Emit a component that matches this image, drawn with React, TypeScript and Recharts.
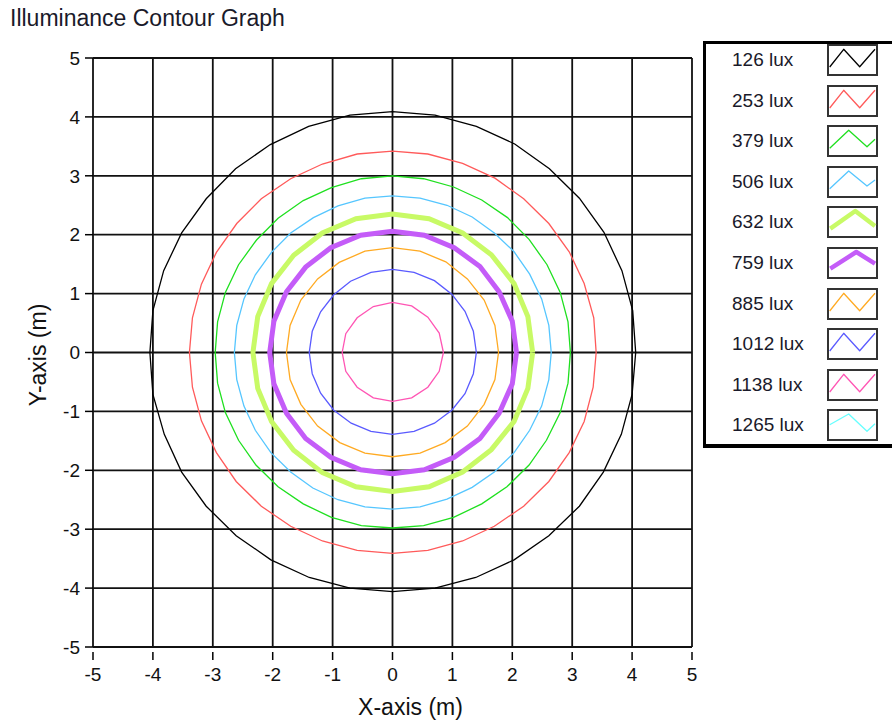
import { LineChart, Line, XAxis, YAxis, CartesianGrid, Label } from "recharts";

// axis ticks (metres)
const axisTicks = [-5, -4, -3, -2, -1, 0, 1, 2, 3, 4, 5];

// contour levels shown in the legend
const levelLabels = [
  "126 lux",
  "253 lux",
  "379 lux",
  "506 lux",
  "632 lux",
  "759 lux",
  "885 lux",
  "1012 lux",
  "1138 lux",
  "1265 lux",
];

// contour outlines, (x, y) in metres
const contour126 = [
  { x: 4.06, y: 0 }, { x: 4.01, y: 0.71 }, { x: 3.83, y: 1.39 }, { x: 3.53, y: 2.04 },
  { x: 3.12, y: 2.62 }, { x: 2.62, y: 3.12 }, { x: 2.04, y: 3.54 }, { x: 1.4, y: 3.84 },
  { x: 0.71, y: 4.03 }, { x: 0, y: 4.09 }, { x: -0.71, y: 4.03 }, { x: -1.4, y: 3.84 },
  { x: -2.04, y: 3.53 }, { x: -2.62, y: 3.12 }, { x: -3.11, y: 2.61 }, { x: -3.52, y: 2.03 },
  { x: -3.82, y: 1.39 }, { x: -4.0, y: 0.71 }, { x: -4.05, y: 0 }, { x: -4.0, y: -0.71 },
  { x: -3.81, y: -1.39 }, { x: -3.52, y: -2.03 }, { x: -3.11, y: -2.61 }, { x: -2.61, y: -3.11 },
  { x: -2.03, y: -3.52 }, { x: -1.39, y: -3.82 }, { x: -0.71, y: -4.0 }, { x: 0, y: -4.06 },
  { x: 0.71, y: -4.0 }, { x: 1.39, y: -3.82 }, { x: 2.03, y: -3.52 }, { x: 2.61, y: -3.11 },
  { x: 3.12, y: -2.61 }, { x: 3.52, y: -2.03 }, { x: 3.82, y: -1.39 }, { x: 4.0, y: -0.71 },
];

const contour253 = [
  { x: 3.4, y: 0 }, { x: 3.36, y: 0.59 }, { x: 3.2, y: 1.17 }, { x: 2.95, y: 1.71 },
  { x: 2.61, y: 2.19 }, { x: 2.19, y: 2.61 }, { x: 1.71, y: 2.96 }, { x: 1.17, y: 3.21 },
  { x: 0.59, y: 3.37 }, { x: 0, y: 3.42 }, { x: -0.59, y: 3.37 }, { x: -1.17, y: 3.2 },
  { x: -1.7, y: 2.95 }, { x: -2.19, y: 2.61 }, { x: -2.6, y: 2.19 }, { x: -2.94, y: 1.7 },
  { x: -3.19, y: 1.16 }, { x: -3.34, y: 0.59 }, { x: -3.39, y: 0 }, { x: -3.34, y: -0.59 },
  { x: -3.19, y: -1.16 }, { x: -2.94, y: -1.7 }, { x: -2.61, y: -2.19 }, { x: -2.19, y: -2.61 },
  { x: -1.7, y: -2.95 }, { x: -1.17, y: -3.2 }, { x: -0.59, y: -3.36 }, { x: 0, y: -3.41 },
  { x: 0.59, y: -3.36 }, { x: 1.17, y: -3.2 }, { x: 1.7, y: -2.95 }, { x: 2.19, y: -2.61 },
  { x: 2.61, y: -2.19 }, { x: 2.95, y: -1.7 }, { x: 3.2, y: -1.17 }, { x: 3.35, y: -0.59 },
];

const contour379 = [
  { x: 2.97, y: 0 }, { x: 2.93, y: 0.52 }, { x: 2.8, y: 1.02 }, { x: 2.58, y: 1.49 },
  { x: 2.28, y: 1.92 }, { x: 1.92, y: 2.29 }, { x: 1.49, y: 2.59 }, { x: 1.02, y: 2.81 },
  { x: 0.52, y: 2.95 }, { x: 0, y: 3.0 }, { x: -0.52, y: 2.95 }, { x: -1.02, y: 2.8 },
  { x: -1.49, y: 2.58 }, { x: -1.91, y: 2.28 }, { x: -2.27, y: 1.91 }, { x: -2.57, y: 1.49 },
  { x: -2.79, y: 1.02 }, { x: -2.92, y: 0.52 }, { x: -2.96, y: 0 }, { x: -2.92, y: -0.52 },
  { x: -2.79, y: -1.02 }, { x: -2.57, y: -1.49 }, { x: -2.28, y: -1.91 }, { x: -1.91, y: -2.28 },
  { x: -1.49, y: -2.57 }, { x: -1.02, y: -2.8 }, { x: -0.52, y: -2.94 }, { x: 0, y: -2.98 },
  { x: 0.52, y: -2.94 }, { x: 1.02, y: -2.8 }, { x: 1.49, y: -2.57 }, { x: 1.91, y: -2.28 },
  { x: 2.28, y: -1.91 }, { x: 2.57, y: -1.49 }, { x: 2.8, y: -1.02 }, { x: 2.93, y: -0.52 },
];

const contour506 = [
  { x: 2.65, y: 0 }, { x: 2.61, y: 0.46 }, { x: 2.49, y: 0.91 }, { x: 2.29, y: 1.33 },
  { x: 2.03, y: 1.71 }, { x: 1.7, y: 2.03 }, { x: 1.33, y: 2.3 }, { x: 0.91, y: 2.5 },
  { x: 0.46, y: 2.62 }, { x: 0, y: 2.66 }, { x: -0.46, y: 2.62 }, { x: -0.91, y: 2.49 },
  { x: -1.32, y: 2.29 }, { x: -1.7, y: 2.03 }, { x: -2.02, y: 1.7 }, { x: -2.29, y: 1.32 },
  { x: -2.48, y: 0.91 }, { x: -2.6, y: 0.46 }, { x: -2.64, y: 0 }, { x: -2.6, y: -0.46 },
  { x: -2.48, y: -0.91 }, { x: -2.29, y: -1.32 }, { x: -2.03, y: -1.7 }, { x: -1.7, y: -2.03 },
  { x: -1.33, y: -2.3 }, { x: -0.91, y: -2.5 }, { x: -0.46, y: -2.62 }, { x: 0, y: -2.66 },
  { x: 0.46, y: -2.62 }, { x: 0.91, y: -2.49 }, { x: 1.33, y: -2.29 }, { x: 1.7, y: -2.03 },
  { x: 2.03, y: -1.7 }, { x: 2.29, y: -1.32 }, { x: 2.49, y: -0.91 }, { x: 2.61, y: -0.46 },
];

const contour632 = [
  { x: 2.34, y: 0 }, { x: 2.26, y: 0.61 }, { x: 2.03, y: 1.17 }, { x: 1.65, y: 1.66 },
  { x: 1.17, y: 2.03 }, { x: 0.61, y: 2.27 }, { x: 0, y: 2.35 }, { x: -0.61, y: 2.27 },
  { x: -1.17, y: 2.03 }, { x: -1.65, y: 1.65 }, { x: -2.02, y: 1.17 }, { x: -2.25, y: 0.61 },
  { x: -2.33, y: 0 }, { x: -2.25, y: -0.61 }, { x: -2.02, y: -1.17 }, { x: -1.65, y: -1.66 },
  { x: -1.17, y: -2.04 }, { x: -0.61, y: -2.28 }, { x: 0, y: -2.36 }, { x: 0.61, y: -2.28 },
  { x: 1.17, y: -2.03 }, { x: 1.65, y: -1.65 }, { x: 2.03, y: -1.17 }, { x: 2.26, y: -0.61 },
];

const contour759 = [
  { x: 2.07, y: 0 }, { x: 2.0, y: 0.53 }, { x: 1.78, y: 1.03 }, { x: 1.46, y: 1.46 },
  { x: 1.03, y: 1.78 }, { x: 0.53, y: 1.99 }, { x: 0, y: 2.06 }, { x: -0.53, y: 1.99 },
  { x: -1.03, y: 1.78 }, { x: -1.45, y: 1.45 }, { x: -1.77, y: 1.03 }, { x: -1.98, y: 0.53 },
  { x: -2.05, y: 0 }, { x: -1.98, y: -0.53 }, { x: -1.77, y: -1.03 }, { x: -1.45, y: -1.46 },
  { x: -1.03, y: -1.78 }, { x: -0.53, y: -1.99 }, { x: 0, y: -2.06 }, { x: 0.53, y: -1.99 },
  { x: 1.03, y: -1.78 }, { x: 1.46, y: -1.46 }, { x: 1.78, y: -1.03 }, { x: 2.0, y: -0.53 },
];

const contour885 = [
  { x: 1.77, y: 0 }, { x: 1.71, y: 0.46 }, { x: 1.53, y: 0.89 }, { x: 1.25, y: 1.25 },
  { x: 0.89, y: 1.54 }, { x: 0.46, y: 1.72 }, { x: 0, y: 1.78 }, { x: -0.46, y: 1.72 },
  { x: -0.89, y: 1.53 }, { x: -1.25, y: 1.25 }, { x: -1.53, y: 0.89 }, { x: -1.71, y: 0.46 },
  { x: -1.77, y: 0 }, { x: -1.71, y: -0.46 }, { x: -1.53, y: -0.88 }, { x: -1.25, y: -1.25 },
  { x: -0.88, y: -1.53 }, { x: -0.46, y: -1.71 }, { x: 0, y: -1.77 }, { x: 0.46, y: -1.71 },
  { x: 0.88, y: -1.53 }, { x: 1.25, y: -1.25 }, { x: 1.53, y: -0.88 }, { x: 1.71, y: -0.46 },
];

const contour1012 = [
  { x: 1.4, y: 0 }, { x: 1.35, y: 0.36 }, { x: 1.21, y: 0.7 }, { x: 0.99, y: 0.99 },
  { x: 0.7, y: 1.22 }, { x: 0.36, y: 1.36 }, { x: 0, y: 1.41 }, { x: -0.36, y: 1.36 },
  { x: -0.7, y: 1.21 }, { x: -0.98, y: 0.98 }, { x: -1.2, y: 0.69 }, { x: -1.34, y: 0.36 },
  { x: -1.39, y: 0 }, { x: -1.34, y: -0.36 }, { x: -1.2, y: -0.69 }, { x: -0.98, y: -0.98 },
  { x: -0.69, y: -1.2 }, { x: -0.36, y: -1.34 }, { x: 0, y: -1.39 }, { x: 0.36, y: -1.34 },
  { x: 0.7, y: -1.2 }, { x: 0.99, y: -0.98 }, { x: 1.21, y: -0.7 }, { x: 1.35, y: -0.36 },
];

const contour1138 = [
  { x: 0.85, y: 0 }, { x: 0.78, y: 0.33 }, { x: 0.59, y: 0.6 }, { x: 0.32, y: 0.79 },
  { x: 0, y: 0.85 }, { x: -0.32, y: 0.78 }, { x: -0.59, y: 0.59 }, { x: -0.78, y: 0.32 },
  { x: -0.84, y: 0 }, { x: -0.78, y: -0.32 }, { x: -0.59, y: -0.59 }, { x: -0.32, y: -0.77 },
  { x: 0, y: -0.83 }, { x: 0.32, y: -0.77 }, { x: 0.59, y: -0.59 }, { x: 0.78, y: -0.32 },
];

// 1265 lux never appears inside the plotted area
const contour1265: { x: number; y: number }[] = [];

const contours = [
  contour126, contour253, contour379, contour506, contour632,
  contour759, contour885, contour1012, contour1138, contour1265,
];

// styling per level
const lineColors = [
  "#000000", "#ff5a5a", "#1fe01f", "#55c6ff", "#c8fa66",
  "#c45cf8", "#ffaa22", "#5a5aff", "#ff55b4", "#66ffff",
];
const lineWidths = [1.3, 1.3, 1.3, 1.3, 5, 5, 1.3, 1.3, 1.3, 1.3];
const swatchW = "2.7,23 16.7,5.3 32.7,22.7 48,5.3";
const swatchN = "2.7,23.3 21.7,5.3 40,21.7 48,14.3";
const swatchShapes = [
  swatchW, swatchW, swatchN, "2.7,22.7 21.7,5 40,20 48,14",
  "3.3,22.7 28.3,5 48,20", "3.3,21.7 29.3,5 48,16.7",
  swatchW, swatchW, swatchW, "2.7,15.7 21.7,5 40,22.3 48,14.7",
];

const FONT = '"Liberation Sans", Arial, sans-serif';

const closeLoop = (pts: { x: number; y: number }[]) =>
  pts.length ? [...pts, pts[0]] : pts;

const XTick = (props: any) => {
  const { x, y, payload } = props;
  return (
    <g>
      <line x1={x} x2={x} y1={y + 5} y2={y + 13} stroke="#000" strokeWidth={1.5} />
      <text x={x} y={y + 34} textAnchor="middle" fontSize={19} fill="#111" fontFamily={FONT}>
        {payload.value}
      </text>
    </g>
  );
};

export default function App() {
  return (
    <div style={{ position: "absolute", left: 0, top: 0, width: 892, height: 725, background: "#fff", fontFamily: FONT }}>
      <div style={{ position: "absolute", left: 10, top: 7, fontSize: 23, lineHeight: "23px", color: "#1a1a2a" }}>
        Illuminance Contour Graph
      </div>

      <LineChart width={892} height={725} margin={{ top: 58, right: 200, bottom: 10, left: 0 }}>
        <CartesianGrid stroke="#111" strokeWidth={1.8} />
        <XAxis
          type="number"
          dataKey="x"
          domain={[-5, 5]}
          ticks={axisTicks}
          allowDataOverflow
          axisLine={false}
          tickLine={false}
          tickSize={0}
          tickMargin={0}
          height={68}
          tick={<XTick />}
        >
          <Label value="X-axis (m)" position="insideBottom" dx={18} offset={0} fontSize={23} fill="#111" fontFamily={FONT} />
        </XAxis>
        <YAxis
          type="number"
          dataKey="y"
          domain={[-5, 5]}
          ticks={axisTicks}
          allowDataOverflow
          width={93}
          axisLine={false}
          tickLine={{ stroke: "#000", strokeWidth: 1.5 }}
          tickSize={8}
          tickMargin={5}
          tick={{ fontSize: 19, fill: "#111", fontFamily: FONT }}
        />
        {contours.map((pts, i) => (
          <Line
            key={levelLabels[i]}
            data={closeLoop(pts)}
            dataKey="y"
            type="linear"
            stroke={lineColors[i]}
            strokeWidth={lineWidths[i]}
            dot={false}
            activeDot={false}
            isAnimationActive={false}
          />
        ))}
      </LineChart>

      <div
        style={{
          position: "absolute",
          left: 38,
          top: 355,
          transform: "translate(-50%, -50%) rotate(-90deg)",
          fontSize: 23,
          color: "#111",
          whiteSpace: "nowrap",
        }}
      >
        Y-axis (m)
      </div>

      {/* legend */}
      <div
        style={{
          position: "absolute",
          left: 703,
          top: 41,
          width: 200,
          height: 400,
          borderLeft: "3px solid #000",
          borderTop: "3px solid #000",
          borderBottom: "4px solid #000",
          background: "#fff",
        }}
      />
      {levelLabels.map((label, i) => {
        const cy = 60 + 40.6 * i;
        return (
          <div key={label}>
            <div
              style={{
                position: "absolute",
                left: 732,
                top: cy - 11,
                height: 22,
                lineHeight: "22px",
                fontSize: 19,
                color: "#1a1a2a",
                whiteSpace: "nowrap",
              }}
            >
              {label}
            </div>
            <svg width={51} height={32} style={{ position: "absolute", left: 827, top: cy - 16 }}>
              <rect x={1} y={1} width={49} height={30} fill="#fff" stroke="#333" strokeWidth={2} />
              <polyline
                points={swatchShapes[i]}
                fill="none"
                stroke={lineColors[i]}
                strokeWidth={lineWidths[i] > 2 ? 4.5 : 1.3}
                strokeLinejoin="round"
              />
            </svg>
          </div>
        );
      })}
    </div>
  );
}
